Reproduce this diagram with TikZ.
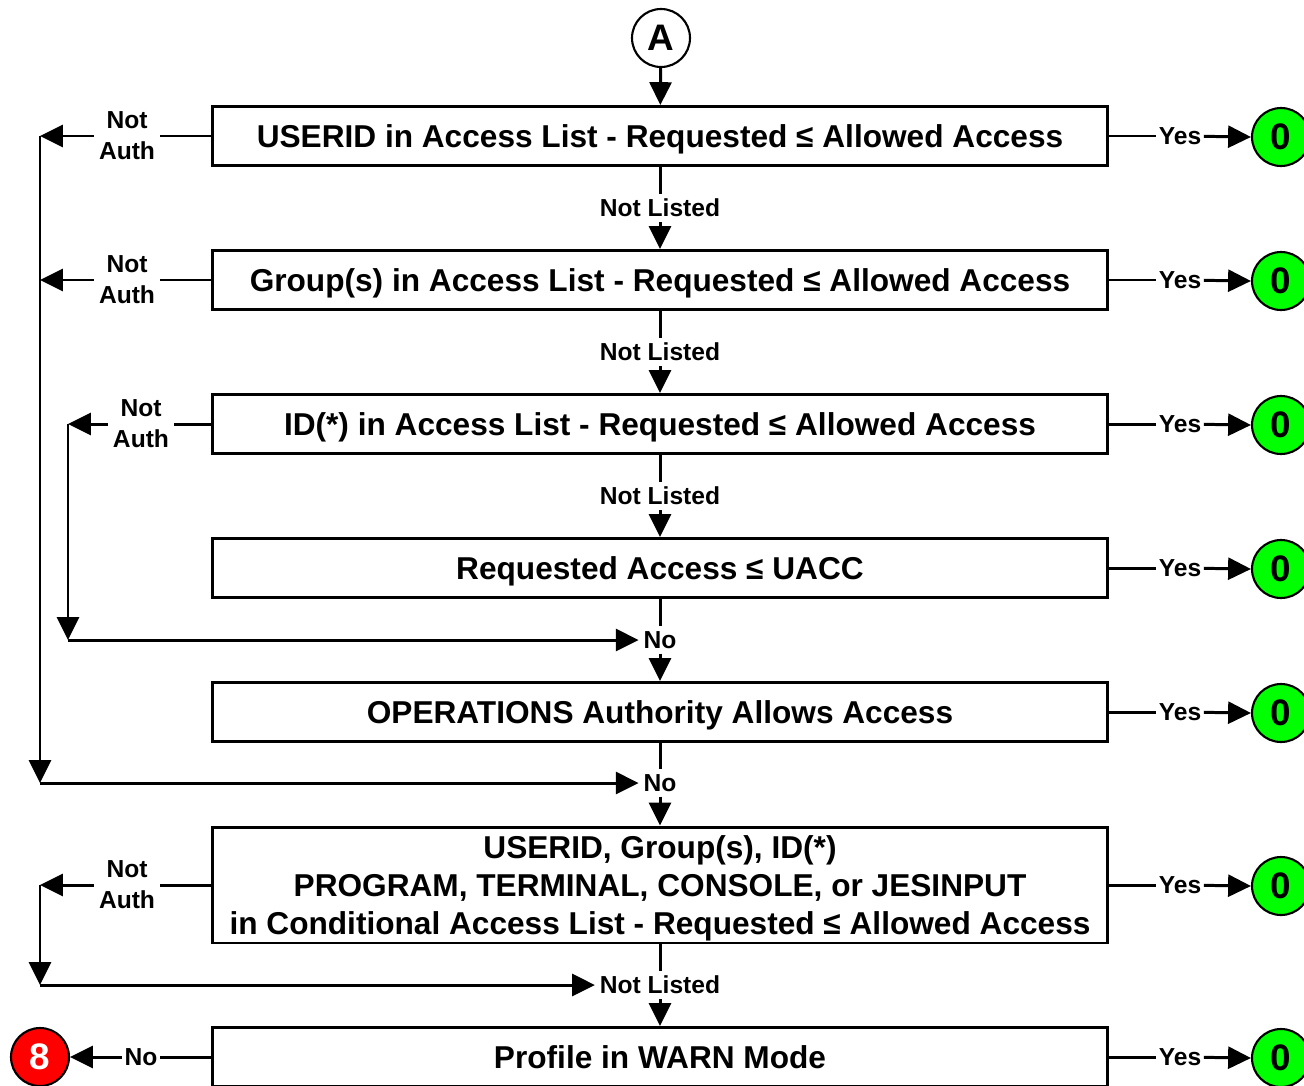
\documentclass[tikz,border=0pt]{standalone}
\usepackage{fontspec}
\setmainfont{Liberation Sans}
\usetikzlibrary{arrows.meta}
\tikzstyle{every picture}+=[line width=1.7pt]

\begin{document}
\begin{tikzpicture}[x=0.02cm, y=-0.02cm,
	box/.style={draw, line width=1.7pt, minimum width=17.92cm, minimum height=1.18cm, inner sep=0pt, text depth=0pt, align=center, font=\bfseries\fontsize{18}{21.5}\selectfont},
	lbl/.style={inner sep=2pt, align=center, font=\bfseries\fontsize{14}{17.5}\selectfont},
	tight/.style={lbl, inner xsep=0.6pt},
	res/.style={circle, draw, line width=1.2pt, minimum size=1.16cm, inner sep=0pt, font=\bfseries\fontsize{21}{21}\selectfont},
	arr/.style={-{Triangle[length=13pt, width=12.5pt]}}]
	\useasboundingbox (0,0) rectangle (1304,1085);
	% entry point
	\node[res, fill=white] (A) at (661,38) {A};
	% checks
	\node[box] (b1) at (660,136) {USERID in Access List - Requested ≤ Allowed Access};
	\node[box] (b2) at (660,280) {Group(s) in Access List - Requested ≤ Allowed Access};
	\node[box] (b3) at (660,424) {ID(*) in Access List - Requested ≤ Allowed Access};
	\node[box] (b4) at (660,568) {Requested Access ≤ UACC};
	\node[box] (b5) at (660,712) {OPERATIONS Authority Allows Access};
	\node[box, minimum height=2.32cm] (b6) at (660,885) {USERID, Group(s), ID(*)\\PROGRAM, TERMINAL, CONSOLE, or JESINPUT\\in Conditional Access List - Requested ≤ Allowed Access};
	\node[box] (b7) at (660,1057) {Profile in WARN Mode};
	% labels down the middle
	\node[lbl] (nl1) at (660,208) {Not Listed};
	\node[lbl] (nl2) at (660,352) {Not Listed};
	\node[lbl] (nl3) at (660,496) {Not Listed};
	\node[lbl] (no4) at (660,640) {No};
	\node[lbl] (no5) at (660,783) {No};
	\node[lbl] (nl6) at (660,985) {Not Listed};
	\draw[arr] (A) -- (b1);
	\draw (b1) -- (nl1); \draw[arr] (nl1) -- (b2);
	\draw (b2) -- (nl2); \draw[arr] (nl2) -- (b3);
	\draw (b3) -- (nl3); \draw[arr] (nl3) -- (b4);
	\draw (b4) -- (no4); \draw[arr] (no4) -- (b5);
	\draw (b5) -- (no5); \draw[arr] (no5) -- (b6);
	\draw (b6) -- (nl6); \draw[arr] (nl6) -- (b7);
	% yes branches
	\node[tight] (y1) at (1180,136) {Yes};
	\node[tight] (y2) at (1180,280) {Yes};
	\node[tight] (y3) at (1180,424) {Yes};
	\node[tight] (y4) at (1180,568) {Yes};
	\node[tight] (y5) at (1180,712) {Yes};
	\node[tight] (y6) at (1180,885) {Yes};
	\node[tight] (y7) at (1180,1057) {Yes};
	\node[res, fill=green] (g1) at (1281,137) {0};
	\node[res, fill=green] (g2) at (1281,281) {0};
	\node[res, fill=green] (g3) at (1281,425) {0};
	\node[res, fill=green] (g4) at (1281,569) {0};
	\node[res, fill=green] (g5) at (1281,713) {0};
	\node[res, fill=green] (g6) at (1281,886) {0};
	\node[res, fill=green] (g7) at (1281,1058) {0};
	\draw (b1.east) -- (y1); \draw[arr] (y1) -- (g1.west);
	\draw (b2.east) -- (y2); \draw[arr] (y2) -- (g2.west);
	\draw (b3.east) -- (y3); \draw[arr] (y3) -- (g3.west);
	\draw (b4.east) -- (y4); \draw[arr] (y4) -- (g4.west);
	\draw (b5.east) -- (y5); \draw[arr] (y5) -- (g5.west);
	\draw (b6.east) -- (y6); \draw[arr] (y6) -- (g6.west);
	\draw (b7.east) -- (y7); \draw[arr] (y7) -- (g7.west);
	% not authorised branches
	\node[lbl] (na1) at (127,136) {Not\\Auth};
	\node[lbl] (na2) at (127,280) {Not\\Auth};
	\node[lbl] (na3) at (141,424) {Not\\Auth};
	\node[lbl] (na6) at (127,885) {Not\\Auth};
	\coordinate (v1) at (40,136);
	\coordinate (v2) at (40,280);
	\coordinate (w3) at (68,424);
	\coordinate (v6) at (40,885);
	\coordinate (c4) at (68,640);
	\coordinate (c5) at (40,783);
	\coordinate (c6) at (40,985);
	\draw (b1.west) -- (na1.east); \draw[arr] (na1.west) -- (v1);
	\draw (b2.west) -- (na2.east); \draw[arr] (na2.west) -- (v2);
	\draw (b3.west) -- (na3.east); \draw[arr] (na3.west) -- (w3);
	\draw (b6.west) -- (na6.east); \draw[arr] (na6.west) -- (v6);
	\draw[arr] (v1) -- (c5); \draw[arr] (c5) -- (no5.west);
	\draw[arr] (w3) -- (c4); \draw[arr] (c4) -- (no4.west);
	\draw[arr] (v6) -- (c6); \draw[arr] (c6) -- (nl6.west);
	% warn mode off
	\node[tight] (n7) at (141,1057) {No};
	\node[res, fill=red, text=white] (r7) at (40,1057) {8};
	\draw (b7.west) -- (n7.east); \draw[arr] (n7.west) -- (r7.east);
\end{tikzpicture}
\end{document}
